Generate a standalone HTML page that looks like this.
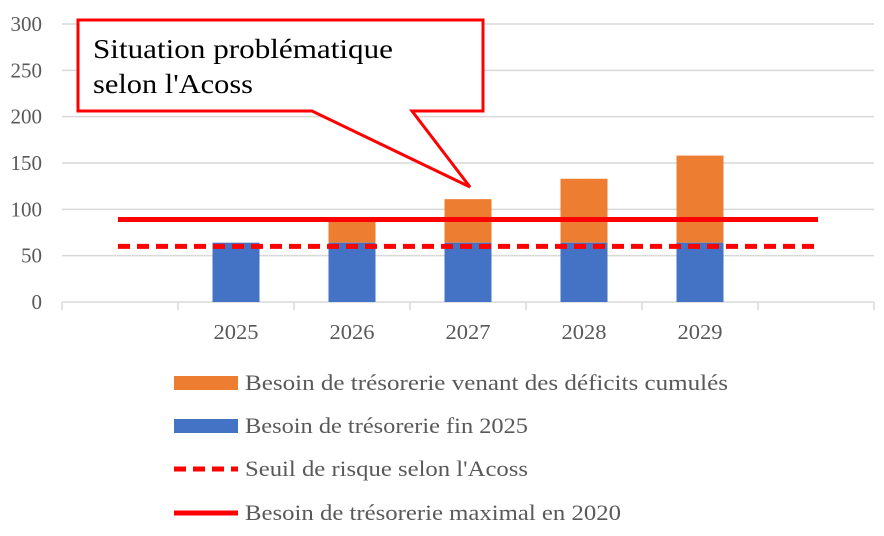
<!DOCTYPE html>
<html><head><meta charset="utf-8"><style>
body{margin:0;background:#fff}
svg text{font-family:"Liberation Serif",serif}
</style></head><body>
<svg id="c" width="884" height="531" xmlns="http://www.w3.org/2000/svg"></svg>
<script>
const categories=["","2025","2026","2027","2028","2029",""];
const baseValues=[null,64,64,64,64,64,null];
const totalValues=[null,64,88,111,133,158,null];
const riskThreshold=60;
const maxNeed2020=89;
const yTicks=[0,50,100,150,200,250,300];
const legendLabels=["Besoin de trésorerie venant des déficits cumulés","Besoin de trésorerie fin 2025","Seuil de risque selon l'Acoss","Besoin de trésorerie maximal en 2020"];
const legendWidths=[483,283,283,376];
const NS="http://www.w3.org/2000/svg";
const svg=document.getElementById('c');
const x0=62,x1=874,yb=302,yt=24;
const slot=(x1-x0)/categories.length;
const y=v=>yb-(v/300)*(yb-yt);
const xc=i=>x0+slot*(i+0.5);
function el(t,a,p){const e=document.createElementNS(NS,t);for(const k in a)e.setAttribute(k,a[k]);(p||svg).appendChild(e);return e;}
yTicks.forEach(v=>{
 const g=el('line',{x1:x0,x2:x1,y1:y(v),y2:y(v),stroke:'#d9d9d9','stroke-width':1.5});
 
 
 const t=el('text',{x:42,y:y(v)+7,'text-anchor':'end','font-size':21,fill:'#595959'});
 t.textContent=v;
 
 
});
for(let i=0;i<=categories.length;i++){
 const tk=el('line',{x1:x0+slot*i,x2:x0+slot*i,y1:yb,y2:yb+8,stroke:'#d9d9d9','stroke-width':1.5});
 
 
}
categories.forEach((c,i)=>{
 if(c){const t=el('text',{x:xc(i),y:339,'text-anchor':'middle','font-size':21,fill:'#595959',textLength:45,lengthAdjust:'spacingAndGlyphs'});t.textContent=c;
 
 }
 if(baseValues[i]!=null){
  const bw=47;
  const o=el('rect',{x:xc(i)-bw/2,y:y(totalValues[i]),width:bw,height:y(baseValues[i])-y(totalValues[i]),fill:'#ed7d31'});
  
  
  const b=el('rect',{x:xc(i)-bw/2,y:y(baseValues[i]),width:bw,height:yb-y(baseValues[i]),fill:'#4472c4'});
  
  
 }
});
const lx0=xc(0)-2,lx1=xc(6)+2;
const d=el('line',{x1:lx0,x2:lx1,y1:y(riskThreshold),y2:y(riskThreshold),stroke:'#ff0000','stroke-width':5,'stroke-dasharray':'12,7'});


const s=el('line',{x1:lx0,x2:lx1,y1:y(maxNeed2020),y2:y(maxNeed2020),stroke:'#ff0000','stroke-width':5});


const co=el('path',{d:'M78,20 H483 V111 H412 L470,187 L312,111 H78 Z',fill:'#fff',stroke:'#ff0000','stroke-width':3});


const ct1=el('text',{x:93,y:58,'font-size':27,fill:'#000',textLength:300,lengthAdjust:'spacingAndGlyphs'});ct1.textContent="Situation problématique";


const ct2=el('text',{x:93,y:93,'font-size':27,fill:'#000',textLength:160,lengthAdjust:'spacingAndGlyphs'});ct2.textContent="selon l'Acoss";


const ly=[383,426,469,513];
legendLabels.forEach((l,i)=>{
 let m;
 if(i===0)m=el('rect',{x:174,y:ly[i]-7,width:64,height:14,fill:'#ed7d31'});
 else if(i===1)m=el('rect',{x:174,y:ly[i]-7,width:64,height:14,fill:'#4472c4'});
 else if(i===2)m=el('line',{x1:174,x2:238,y1:ly[i],y2:ly[i],stroke:'#ff0000','stroke-width':5,'stroke-dasharray':'12,7'});
 else m=el('line',{x1:174,x2:238,y1:ly[i],y2:ly[i],stroke:'#ff0000','stroke-width':5});
 
 
 const t=el('text',{x:245,y:ly[i]+7,'font-size':22,fill:'#595959',textLength:legendWidths[i],lengthAdjust:'spacingAndGlyphs'});t.textContent=l;
 
 
});
</script>
</body></html>
